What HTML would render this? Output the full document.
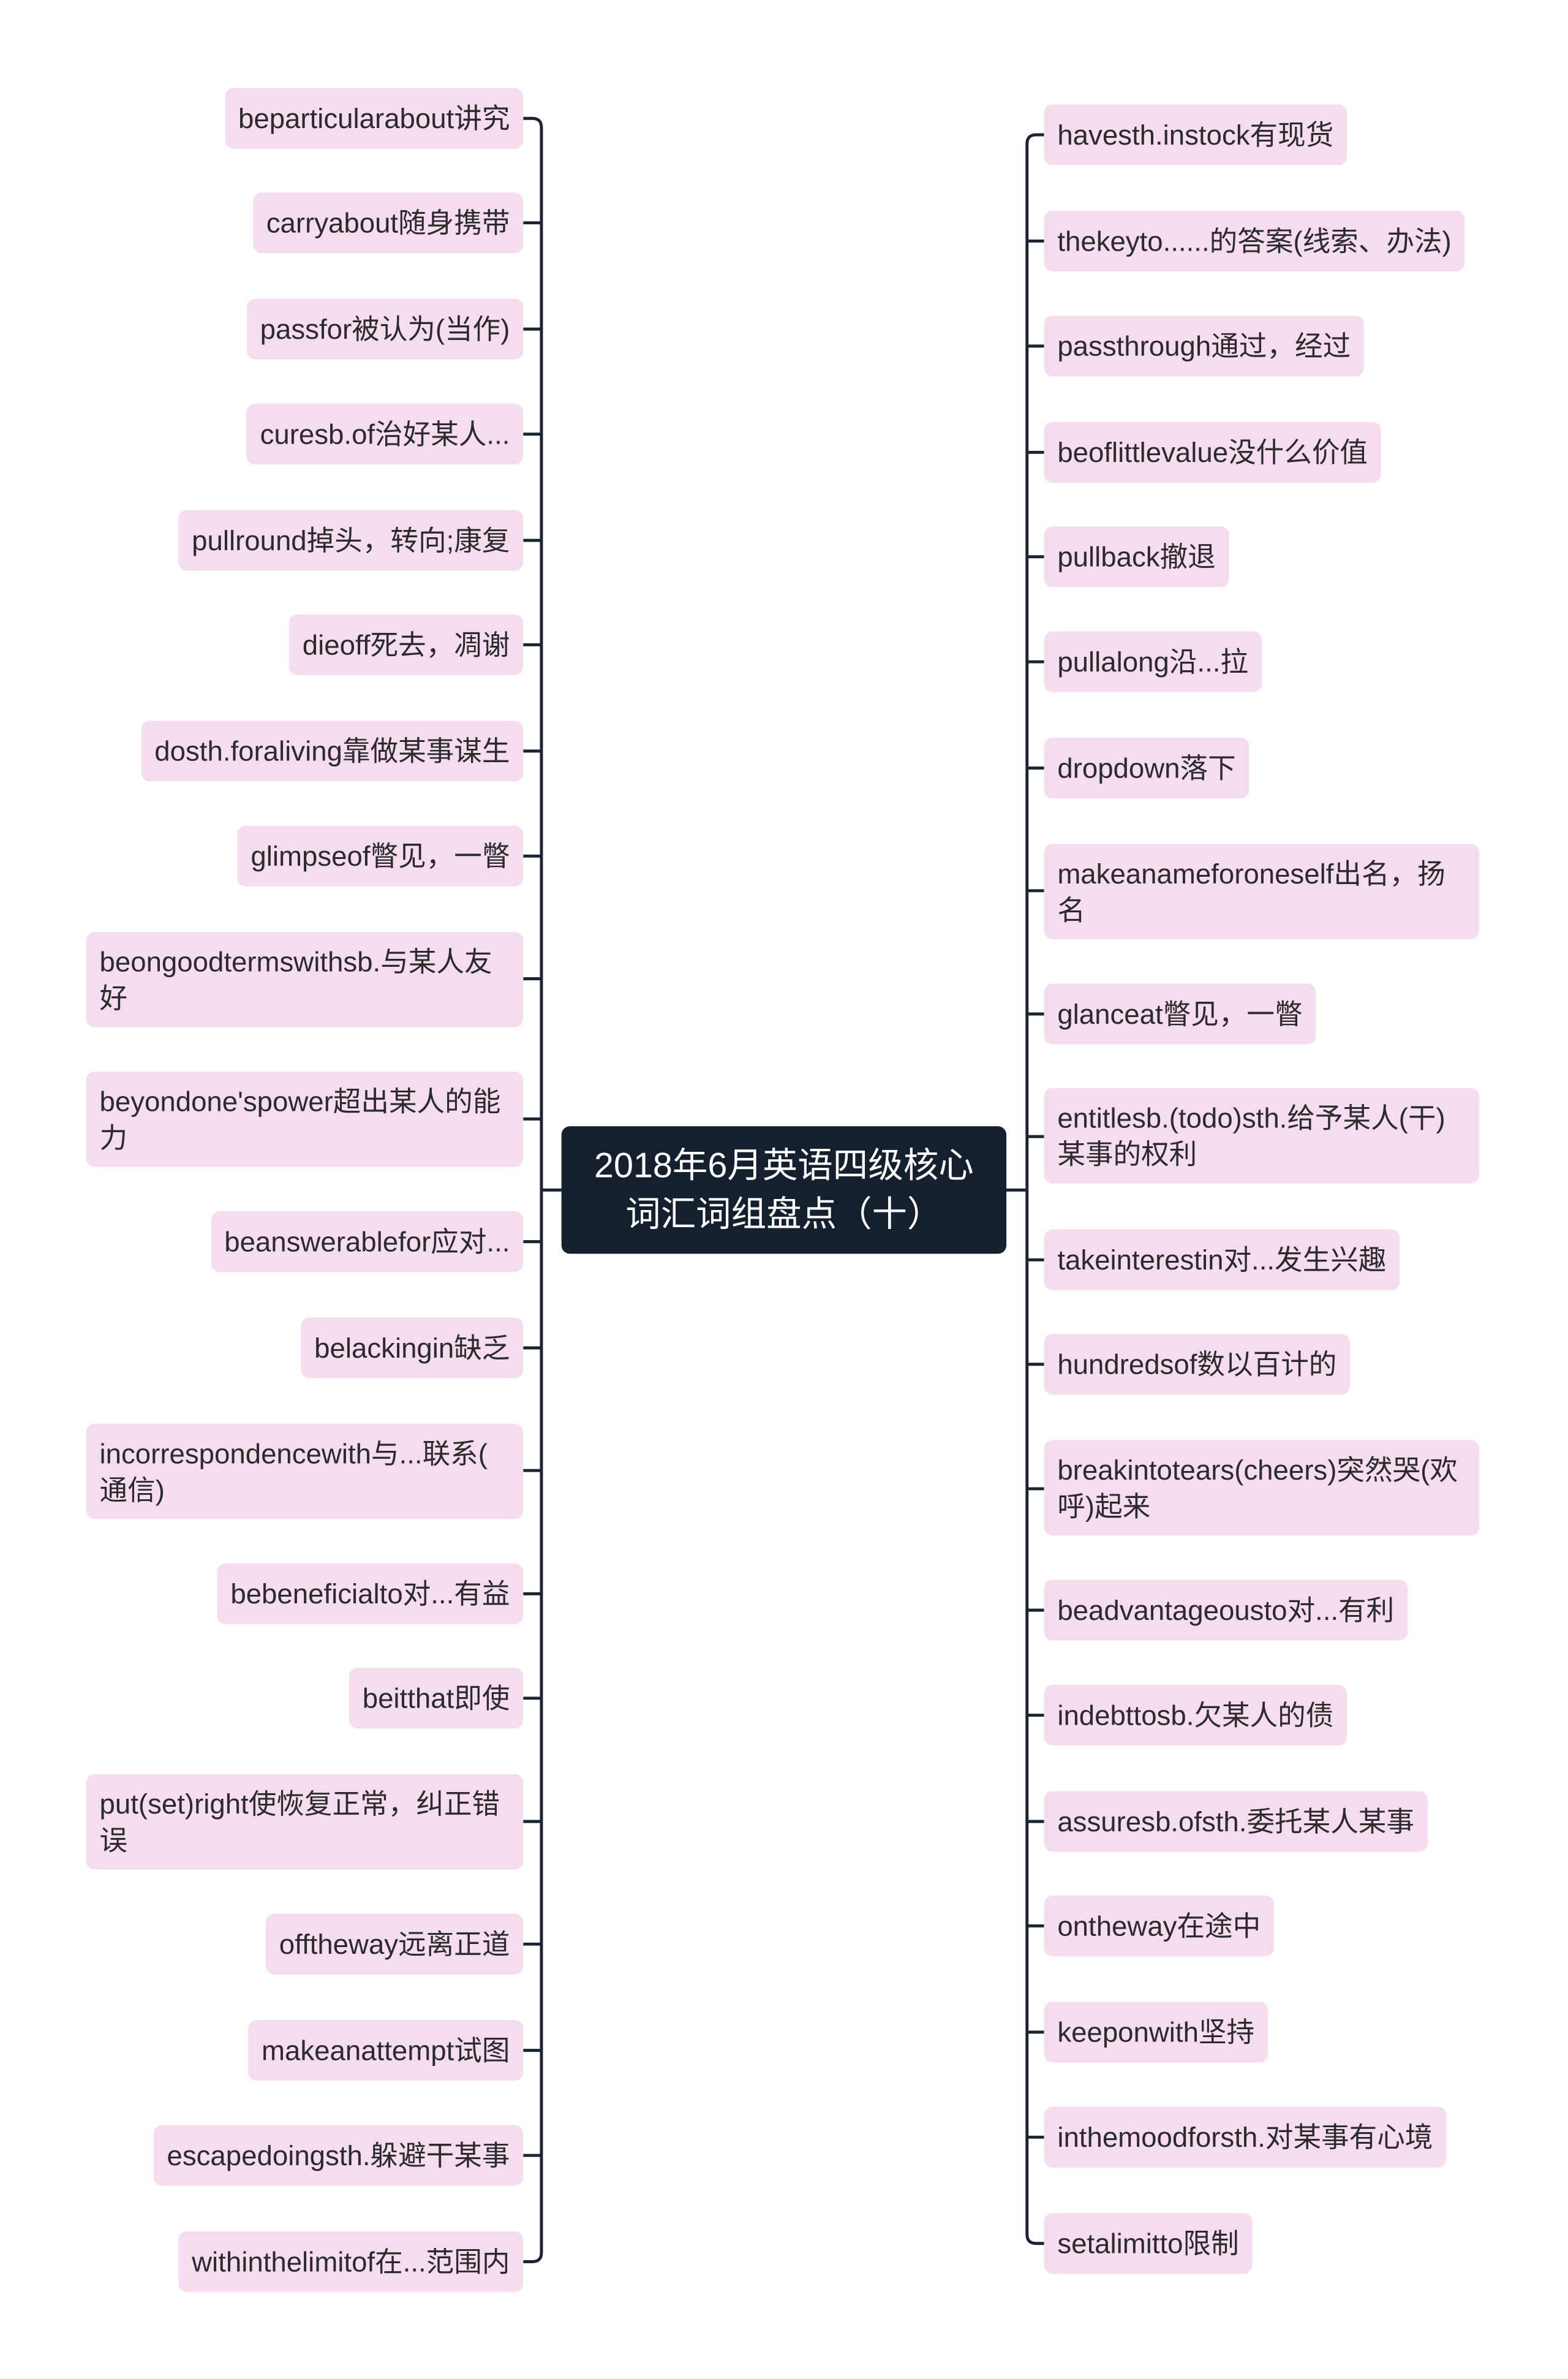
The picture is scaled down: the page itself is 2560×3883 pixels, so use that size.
<!DOCTYPE html>
<html><head><meta charset="utf-8"><style>
body{margin:0;width:2560px;height:3883px;background:#fff;position:relative;overflow:hidden;font-family:"Liberation Sans","Noto Sans CJK SC",sans-serif;}
#w{position:absolute;left:0;top:0;width:2560px;height:3883px;transform:scale(0.991);transform-origin:0 0;}
.n{position:absolute;background:#f5dcef;border-radius:14px;color:#2b2b2b;font-size:46px;line-height:60px;box-sizing:border-box;padding:0 22px;display:flex;align-items:center;white-space:nowrap;height:100px;}
.d{height:157px;}
.L{right:1698px;justify-content:flex-start;}
.R{left:1720px;}
.c{position:absolute;left:925px;top:1855px;width:733px;height:210px;background:#15202e;border-radius:14px;color:#fff;font-size:58px;line-height:80px;display:flex;align-items:center;justify-content:center;text-align:center;}
svg{position:absolute;left:0;top:0;}
</style></head><body><div id="w">
<svg width="2560" height="3883" fill="none" stroke="#1a2433" stroke-width="5">
<path d="M892,210 V3710 M862,195 H877 Q892,195 892,210 M862,3725 H877 Q892,3725 892,3710"/>
<path d="M862,367H892M862,542H892M862,715H892M862,890H892M862,1062H892M862,1237H892M862,1410H892M862,1612H892M862,1843H892M862,2045H892M862,2220H892M862,2422H892M862,2625H892M862,2797H892M862,3000H892M862,3202H892M862,3377H892M862,3550H892"/>
<path d="M892,1960H925M1658,1960H1692"/>
<path d="M1692,237 V3680 M1720,222 H1707 Q1692,222 1692,237 M1720,3695 H1707 Q1692,3695 1692,3680"/>
<path d="M1692,397H1720M1692,570H1720M1692,745H1720M1692,917H1720M1692,1090H1720M1692,1265H1720M1692,1467H1720M1692,1670H1720M1692,1872H1720M1692,2075H1720M1692,2247H1720M1692,2452H1720M1692,2652H1720M1692,2825H1720M1692,3000H1720M1692,3172H1720M1692,3347H1720M1692,3520H1720"/>
</svg>
<div class="c">2018年6月英语四级核心<br>词汇词组盘点（十）</div>

<div class="n L" style="top:145px">beparticularabout讲究</div>
<div class="n L" style="top:317px">carryabout随身携带</div>
<div class="n L" style="top:492px">passfor被认为(当作)</div>
<div class="n L" style="top:665px">curesb.of治好某人...</div>
<div class="n L" style="top:840px">pullround掉头，转向;康复</div>
<div class="n L" style="top:1012px">dieoff死去，凋谢</div>
<div class="n L" style="top:1187px">dosth.foraliving靠做某事谋生</div>
<div class="n L" style="top:1360px">glimpseof瞥见，一瞥</div>
<div class="n L d" style="top:1535px;left:142px">beongoodtermswithsb.与某人友<br>好</div>
<div class="n L d" style="top:1765px;left:142px">beyondone'spower超出某人的能<br>力</div>
<div class="n L" style="top:1995px">beanswerablefor应对...</div>
<div class="n L" style="top:2170px">belackingin缺乏</div>
<div class="n L d" style="top:2345px;left:142px">incorrespondencewith与...联系(<br>通信)</div>
<div class="n L" style="top:2575px">bebeneficialto对...有益</div>
<div class="n L" style="top:2747px">beitthat即使</div>
<div class="n L d" style="top:2922px;left:142px">put(set)right使恢复正常，纠正错<br>误</div>
<div class="n L" style="top:3152px">offtheway远离正道</div>
<div class="n L" style="top:3327px">makeanattempt试图</div>
<div class="n L" style="top:3500px">escapedoingsth.躲避干某事</div>
<div class="n L" style="top:3675px">withinthelimitof在...范围内</div>

<div class="n R" style="top:172px">havesth.instock有现货</div>
<div class="n R" style="top:347px">thekeyto......的答案(线索、办法)</div>
<div class="n R" style="top:520px">passthrough通过，经过</div>
<div class="n R" style="top:695px">beoflittlevalue没什么价值</div>
<div class="n R" style="top:867px">pullback撤退</div>
<div class="n R" style="top:1040px">pullalong沿...拉</div>
<div class="n R" style="top:1215px">dropdown落下</div>
<div class="n R d" style="top:1390px;width:717px">makeanameforoneself出名，扬<br>名</div>
<div class="n R" style="top:1620px">glanceat瞥见，一瞥</div>
<div class="n R d" style="top:1792px;width:717px">entitlesb.(todo)sth.给予某人(干)<br>某事的权利</div>
<div class="n R" style="top:2025px">takeinterestin对...发生兴趣</div>
<div class="n R" style="top:2197px">hundredsof数以百计的</div>
<div class="n R d" style="top:2372px;width:717px">breakintotears(cheers)突然哭(欢<br>呼)起来</div>
<div class="n R" style="top:2602px">beadvantageousto对...有利</div>
<div class="n R" style="top:2775px">indebttosb.欠某人的债</div>
<div class="n R" style="top:2950px">assuresb.ofsth.委托某人某事</div>
<div class="n R" style="top:3122px">ontheway在途中</div>
<div class="n R" style="top:3297px">keeponwith坚持</div>
<div class="n R" style="top:3470px">inthemoodforsth.对某事有心境</div>
<div class="n R" style="top:3645px">setalimitto限制</div>
</div></body></html>
